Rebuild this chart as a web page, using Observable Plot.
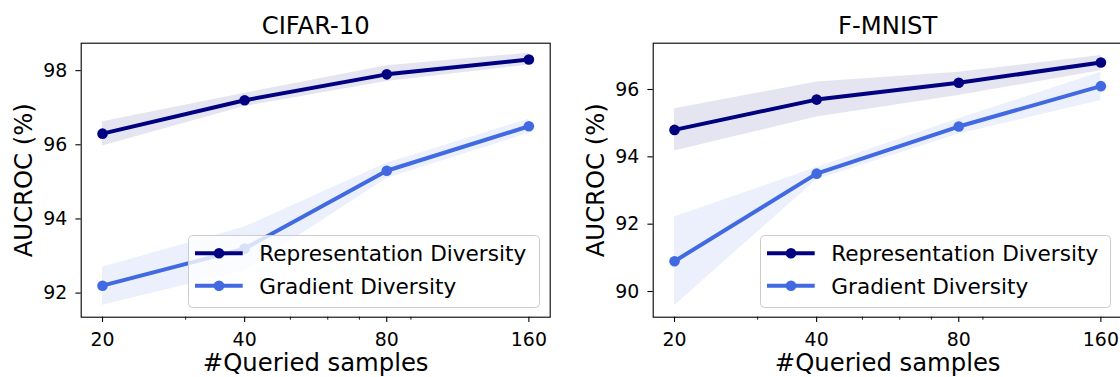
<!DOCTYPE html>
<html><head><meta charset="utf-8">
<script src="https://cdn.jsdelivr.net/npm/d3@7"></script>
<script src="https://cdn.jsdelivr.net/npm/@observablehq/plot@0.6"></script>
<style>
body{margin:0;background:#fff;overflow:hidden}
#wrap{position:relative;width:1120px;height:377px;overflow:hidden;font-family:"DejaVu Sans",sans-serif;background:#fff}
.panel{position:absolute;top:0}
.legend{position:absolute;top:235px}
</style></head><body><div id="wrap"></div>
<script>
const samples = [20, 40, 80, 160];
const xTicks = [20, 40, 80, 160];
const xMinorTicks = [30, 50, 60, 70, 90];
const seriesNames = ["Representation Diversity", "Gradient Diversity"];
const seriesColors = ["#000080", "#4169e1"];
const panelTitles = ["CIFAR-10", "F-MNIST"];
const xLabel = "#Queried samples";
const yLabel = "AUCROC (%)";

// CIFAR-10
const cifarYTicks = [92, 94, 96, 98];
const cifarRep = [96.3, 97.2, 97.9, 98.3];
const cifarRepLo = [95.97, 97.03, 97.71, 98.15];
const cifarRepHi = [96.62, 97.39, 98.13, 98.47];
const cifarGrad = [92.2, 93.2, 95.3, 96.5];
const cifarGradLo = [91.67, 92.6, 95.09, 96.31];
const cifarGradHi = [92.7, 93.78, 95.5, 96.69];

// F-MNIST
const fmnistYTicks = [90, 92, 94, 96];
const fmnistRep = [94.8, 95.7, 96.2, 96.8];
const fmnistRepLo = [94.17, 95.18, 95.82, 96.56];
const fmnistRepHi = [95.43, 96.22, 96.51, 97.01];
const fmnistGrad = [90.9, 93.5, 94.9, 96.1];
const fmnistGradLo = [89.58, 93.32, 94.68, 95.67];
const fmnistGradHi = [92.21, 93.68, 95.13, 96.51];

const xDomain = [20 * Math.pow(2, -0.15), 160 * Math.pow(2, 0.15)];

function panel(o) {
  const rows = samples.map((s, i) => ({
    s, rep: o.rep[i], repLo: o.repLo[i], repHi: o.repHi[i],
    grad: o.grad[i], gradLo: o.gradLo[i], gradHi: o.gradHi[i]
  }));
  return Plot.plot({
    width: o.width, height: 377,
    marginLeft: o.marginLeft, marginRight: o.marginRight, marginTop: 42.7, marginBottom: 60.3,
    style: {fontFamily: "DejaVu Sans", fontSize: "18.9px", color: "#000", background: "transparent", overflow: "visible"},
    x: {type: "log", domain: xDomain},
    y: {domain: o.yDomain},
    marks: [
      Plot.areaY(rows, {x: "s", y1: "repLo", y2: "repHi", fill: seriesColors[0], fillOpacity: 0.1}),
      Plot.areaY(rows, {x: "s", y1: "gradLo", y2: "gradHi", fill: seriesColors[1], fillOpacity: 0.1}),
      Plot.line(rows, {x: "s", y: "rep", stroke: seriesColors[0], strokeWidth: 4, strokeLinejoin: "round"}),
      Plot.dot(rows, {x: "s", y: "rep", r: 5.3, fill: seriesColors[0], stroke: null}),
      Plot.line(rows, {x: "s", y: "grad", stroke: seriesColors[1], strokeWidth: 4, strokeLinejoin: "round"}),
      Plot.dot(rows, {x: "s", y: "grad", r: 5.3, fill: seriesColors[1], stroke: null}),
      Plot.frame({stroke: "#000", strokeWidth: 1.1}),
      Plot.axisX({ticks: xTicks, tickSize: 5.3, tickPadding: 9.7, tickFormat: d => String(d), label: null, strokeWidth: 1.1}),
      Plot.axisX({ticks: xMinorTicks, tickSize: 3, tickFormat: () => "", label: null, strokeWidth: 0.9}),
      Plot.axisY({ticks: o.yTicks, tickSize: 5.3, tickPadding: 8.7, tickFormat: d => String(d), label: null, strokeWidth: 1.1}),
      Plot.text([o.title], {frameAnchor: "top", lineAnchor: "bottom", dy: -9.4, fontSize: 24.3, fill: "#000"}),
      Plot.text([xLabel], {frameAnchor: "bottom", lineAnchor: "bottom", dy: 53.8, fontSize: 24.3, fill: "#000"}),
      Plot.text([yLabel], {frameAnchor: "left", textAnchor: "middle", lineAnchor: "top", rotate: -90, dx: -66, fontSize: 24.3, fill: "#000"})
    ]
  });
}

function legend(left, w) {
  const h = 72;
  const svg = d3.create("svg").attr("class", "legend").attr("width", w + 1).attr("height", h + 1)
    .style("left", left + "px");
  svg.append("rect").attr("x", 0.5).attr("y", 0.5).attr("width", w).attr("height", h).attr("rx", 4)
    .attr("fill", "#fff").attr("fill-opacity", 0.8).attr("stroke", "#cccccc").attr("stroke-width", 1);
  const rowY = [18.3, 50.7];
  seriesNames.forEach((name, i) => {
    const g = svg.append("g");
    g.append("line").attr("x1", 7).attr("x2", 54.7).attr("y1", rowY[i]).attr("y2", rowY[i])
      .attr("stroke", seriesColors[i]).attr("stroke-width", 4);
    g.append("circle").attr("cx", 31).attr("cy", rowY[i]).attr("r", 5.3).attr("fill", seriesColors[i]);
    g.append("text").attr("x", 71.3).attr("y", rowY[i] + 7.9).attr("font-size", 21.6)
      .attr("font-family", "DejaVu Sans").attr("fill", "#000").text(name);
  });
  return svg.node();
}

const wrap = document.getElementById("wrap");
const p1 = panel({title: panelTitles[0], width: 560, marginLeft: 80.7, marginRight: 10.3,
  yDomain: [91.35, 98.74], yTicks: cifarYTicks,
  rep: cifarRep, repLo: cifarRepLo, repHi: cifarRepHi, grad: cifarGrad, gradLo: cifarGradLo, gradHi: cifarGradHi});
p1.classList.add("panel"); p1.style.left = "0px";
wrap.appendChild(p1);
const p2 = panel({title: panelTitles[1], width: 565, marginLeft: 92.7, marginRight: 3.3,
  yDomain: [89.237, 97.375], yTicks: fmnistYTicks,
  rep: fmnistRep, repLo: fmnistRepLo, repHi: fmnistRepHi, grad: fmnistGrad, gradLo: fmnistGradLo, gradHi: fmnistGradHi});
p2.classList.add("panel"); p2.style.left = "560px";
wrap.appendChild(p2);
wrap.appendChild(legend(188, 351));
wrap.appendChild(legend(760, 350));
</script></body></html>
